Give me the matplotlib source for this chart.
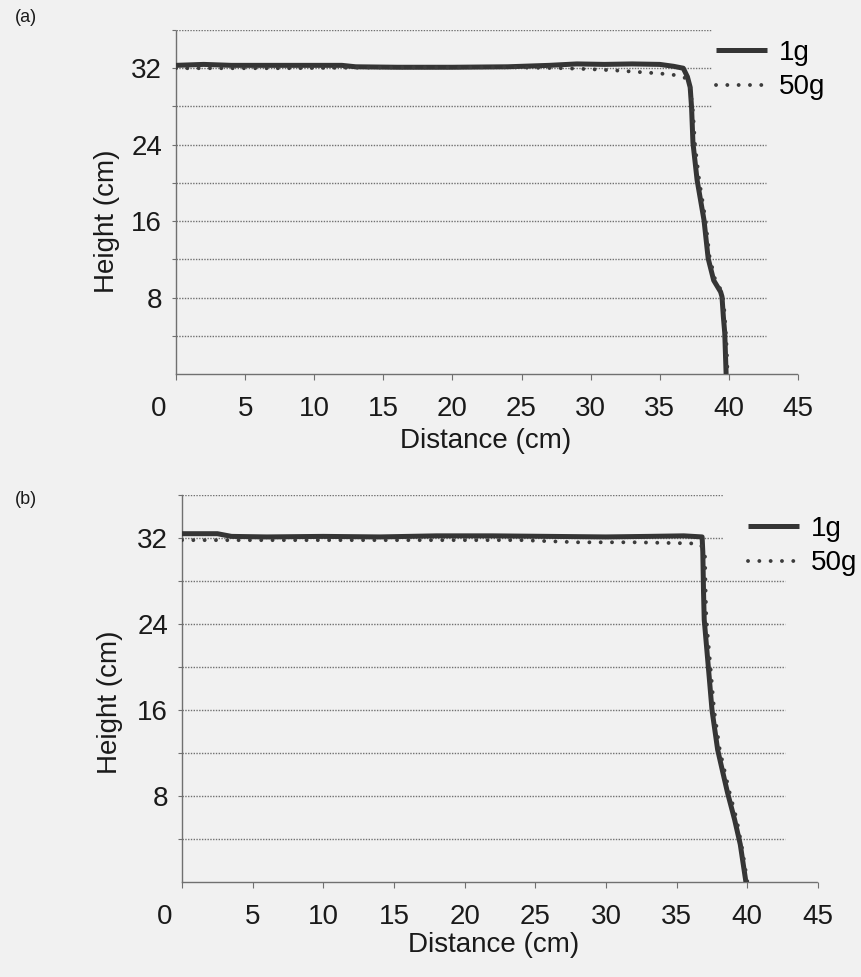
import matplotlib
matplotlib.use("Agg")
import matplotlib.pyplot as plt
from matplotlib.transforms import ScaledTranslation

# ---------------- data ----------------
a_1g_x = [0, 2, 4, 8, 12, 13, 16, 20, 24, 27, 29, 31, 33, 35, 36.0, 36.7, 37.0, 37.2, 37.3, 37.4, 37.7, 38.2, 38.5, 38.9, 39.4, 39.5, 39.6, 39.7, 39.8]
a_1g_y = [32.3, 32.4, 32.3, 32.3, 32.3, 32.15, 32.1, 32.1, 32.15, 32.3, 32.45, 32.4, 32.45, 32.4, 32.2, 32.0, 31.1, 30.0, 27.9, 24.2, 20.3, 16.1, 12.1, 9.8, 8.6, 8.1, 6.0, 4.3, 0.0]
a_50g_x = [0, 4, 8, 12, 16, 20, 24, 28, 30, 32, 33.5, 35, 36, 36.8, 37.2, 37.4, 37.55, 37.85, 38.3, 38.6, 39.0, 39.5, 39.65, 39.75, 39.85, 39.9]
a_50g_y = [32.0, 32.0, 32.0, 32.05, 32.1, 32.1, 32.1, 32.0, 31.9, 31.75, 31.6, 31.45, 31.3, 31.0, 30.0, 27.5, 24.0, 20.3, 16.2, 12.3, 9.9, 8.6, 7.0, 5.0, 2.5, 0.0]

b_1g_x = [0, 2.5, 3.5, 6, 10, 14, 18, 22, 26, 30, 33, 35.5, 36.8, 36.85, 36.9, 36.95, 37.3, 37.5, 37.9, 38.3, 38.6, 39.1, 39.5, 39.9]
b_1g_y = [32.4, 32.4, 32.15, 32.1, 32.15, 32.1, 32.2, 32.2, 32.15, 32.1, 32.15, 32.2, 32.1, 30.7, 27.0, 24.4, 19.1, 16.0, 12.3, 10.0, 8.3, 5.8, 3.5, 0.0]
b_50g_x = [0, 4, 8, 12, 16, 20, 24, 26, 28, 30, 32, 34, 36.0, 36.7, 37.0, 37.05, 37.1, 37.45, 37.65, 38.05, 38.45, 38.75, 39.25, 39.65, 40.0]
b_50g_y = [31.8, 31.8, 31.8, 31.8, 31.8, 31.8, 31.8, 31.7, 31.6, 31.6, 31.6, 31.55, 31.5, 31.4, 30.5, 27.0, 24.4, 19.1, 16.0, 12.3, 10.0, 8.3, 5.8, 3.0, 0.0]

series_labels = ["1g", "50g"]
x_ticks = [0, 5, 10, 15, 20, 25, 30, 35, 40, 45]
y_grid = [4, 8, 12, 16, 20, 24, 28, 32, 36]
y_tick_labels = {8: "8", 16: "16", 24: "24", 32: "32"}

# ---------------- style ----------------
plt.rcParams['font.family'] = ['Liberation Sans', 'DejaVu Sans']
W, H, DPI = 862, 977, 100
BG = '#f1f1f1'
fig = plt.figure(figsize=(W / DPI, H / DPI), dpi=DPI, facecolor=BG)

FS = 20
SOLID = '#353535'
DOT = '#3c3c3c'
GRID = '#707070'
TXT = '#1a1a1a'


def px_rect(l, r, b, t):
    return [l / W, 1 - b / H, (r - l) / W, (b - t) / H]


panels = [
    dict(rect=px_rect(176, 798, 374, 30), d1=(a_1g_x, a_1g_y), d2=(a_50g_x, a_50g_y),
         covered={36, 32, 28}, cov_end=38.7, ylab=(-0.09, 0.445), xlab=(0.497, -0.157),
         leg=(716, 40), tag='(a)', tagy=18),
    dict(rect=px_rect(182, 818, 882, 495), d1=(b_1g_x, b_1g_y), d2=(b_50g_x, b_50g_y),
         covered={36, 32}, cov_end=38.3, ylab=(-0.093, 0.465), xlab=(0.49, -0.13),
         leg=(748, 516), tag='(b)', tagy=499),
]

for p in panels:
    ax = fig.add_axes(p['rect'])
    ax.set_facecolor('none')
    ax.set_xlim(0, 45)
    ax.set_ylim(0, 36)

    # gridlines
    for g in y_grid:
        xe = p['cov_end'] if g in p['covered'] else 42.7
        ax.hlines(g, 0, xe, colors=GRID, linewidth=1.0, linestyles=(0, (1, 1)), zorder=1)

    l1, = ax.plot(*p['d1'], color=SOLID, linewidth=3.6, solid_joinstyle='round',
                  solid_capstyle='butt', zorder=3, label=series_labels[0])
    l2, = ax.plot(*p['d2'], color=DOT, linewidth=2.8, linestyle=(0, (0.01, 2.9)),
                  dash_capstyle='round', zorder=4, label=series_labels[1])

    # spines
    for s in ['top', 'right']:
        ax.spines[s].set_visible(False)
    for s in ['left', 'bottom']:
        ax.spines[s].set_color(GRID)
        ax.spines[s].set_linewidth(1.0)
        ax.spines[s].set_linestyle((0, (1, 1)))

    ax.set_xticks(x_ticks)
    ax.set_xticklabels([str(v) for v in x_ticks])
    ax.set_yticks(y_grid)
    ax.set_yticklabels([y_tick_labels.get(v, "") for v in y_grid])
    ax.tick_params(axis='x', direction='out', length=4, width=0.8, color=GRID,
                   labelsize=FS, pad=12, labelcolor=TXT)
    ax.tick_params(axis='y', direction='out', length=3, width=0.8, color=GRID,
                   labelsize=FS, pad=7, labelcolor=TXT)
    # the "0" label sits left of the origin in the original
    lab0 = ax.get_xticklabels()[0]
    lab0.set_transform(lab0.get_transform() + ScaledTranslation(-17 / DPI, 0, fig.dpi_scale_trans))

    ax.set_ylabel('Height (cm)', fontsize=FS, color=TXT)
    ax.yaxis.set_label_coords(*p['ylab'])
    ax.set_xlabel('Distance (cm)', fontsize=FS, color=TXT)
    ax.xaxis.set_label_coords(*p['xlab'])

    lx, ly = p['leg']
    fig.legend(handles=[l1, l2], loc='upper left',
               bbox_to_anchor=(lx / W, 1 - ly / H), frameon=False, fontsize=FS,
               handlelength=1.85, handletextpad=0.4, labelspacing=0.3,
               borderpad=0, borderaxespad=0)

    fig.text(15 / W, 1 - p['tagy'] / H, p['tag'], fontsize=13, va='center', ha='left',
             color=TXT)

fig.savefig('out.png', dpi=DPI, facecolor=fig.get_facecolor())
